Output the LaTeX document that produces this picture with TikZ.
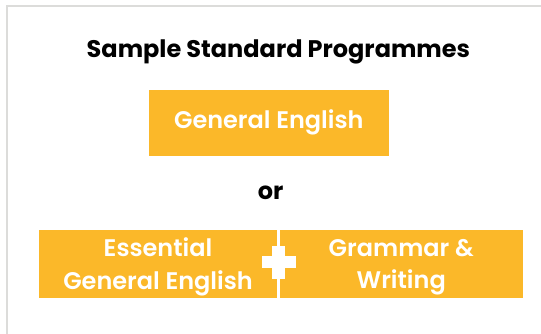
\documentclass[tikz,border=0pt]{standalone}
\usepackage{fontspec}
\setmainfont{Poppins}
\newfontfamily\popsemi{Poppins SemiBold}
\usepackage{tikz}
\definecolor{progorange}{HTML}{FBB829}
\definecolor{framegray}{HTML}{DCDCDA}
\tikzstyle{progbox}=[fill=progorange,text=white,inner sep=0pt,align=center,
          font=\popsemi\fontsize{24}{32.6}\selectfont]
\tikzstyle{headtext}=[anchor=base,font=\bfseries\fontsize{24}{28}\selectfont]

\begin{document}
\begin{tikzpicture}[x=1pt,y=-1pt]
          \useasboundingbox (0,0) rectangle (541,334);
          \draw[framegray,line width=2pt] (6.5,334) -- (6.5,6.5) -- (541,6.5);
          \node[headtext] (title) at (278.4,57.3) {Sample Standard Programmes};
          \node[progbox,minimum width=239.6pt,minimum height=65.7pt] (general) at (268.8,122.85) {General English};
          \node[headtext] (or) at (270.7,199) {or};
          \node[progbox,minimum width=238pt,minimum height=67.7pt,text depth=0pt] (essential) at (158,263.85) {Essential\\General English};
          \node[progbox,minimum width=242.5pt,minimum height=67.7pt,text depth=0pt] (grammar) at (401.25,263.85) {Grammar \&\\Writing};
          % plus sign between the two boxes
          \fill[white] (262,256) rectangle (295.5,267.7);
          \fill[white] (272.4,246) rectangle (284.5,279.3);
        \end{tikzpicture}
\end{document}
